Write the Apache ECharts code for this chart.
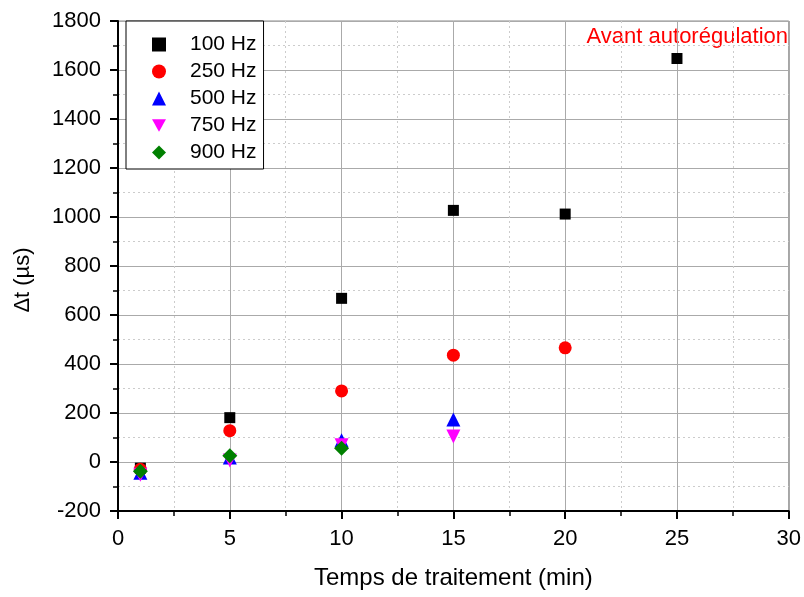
<!DOCTYPE html>
<html>
<head>
<meta charset="utf-8">
<script src="https://cdn.jsdelivr.net/npm/echarts@6/dist/echarts.min.js"></script>
<style>
  html, body { margin: 0; padding: 0; background: #fff; }
  #chart-container { width: 804px; height: 597px; }
</style>
</head>
<body>
<div id="chart-container"></div>
<script>
// data: [time (min), delta t (us)]
var hz100 = [[1, -25], [5, 181], [10, 668], [15, 1027], [20, 1012], [25, 1647]];
var hz250 = [[1, -30], [5, 128], [10, 290], [15, 436], [20, 466]];
var hz500 = [[1, -44], [5, 18], [10, 89], [15, 173]];
var hz750 = [[1, -52], [5, 6], [10, 68], [15, 104]];
var hz900 = [[1, -38], [5, 26], [10, 56]];

var seriesNames = ["100 Hz", "250 Hz", "500 Hz", "750 Hz", "900 Hz"];
var xTitle = "Temps de traitement (min)";
var yTitle = "\u0394t (\u00b5s)";
var note = "Avant autorégulation";

var dom = document.getElementById("chart-container");
var myChart = echarts.init(dom, null, { renderer: "canvas" });

var fontFam = "Liberation Sans, Arial, sans-serif";

var axisCommon = {
  axisLine: { show: true, onZero: false, lineStyle: { color: "#000", width: 2 } },
  axisTick: { show: true, inside: false, length: 8, lineStyle: { color: "#000", width: 2 } },
  minorTick: { show: true, splitNumber: 2, length: 5, lineStyle: { color: "#000", width: 1.5 } },
  splitLine: { show: true, lineStyle: { color: "#aaa", width: 1 } },
  minorSplitLine: { show: true, lineStyle: { color: "#ccc", width: 1, type: [2, 3] } },
};

function plain(v) {
  return String(v);
}

function mk(name, data, symbol, size, color) {
  return {
    name: name,
    type: "scatter",
    data: data,
    symbol: symbol,
    symbolSize: size,
    itemStyle: { color: color, opacity: 1 },
  };
}

var option = {
  animation: false,
  grid: {
    left: 118, right: 14, top: 21, bottom: 86,
    show: true, borderColor: "#888", borderWidth: 1,
  },
  legend: {
    orient: "vertical",
    left: 126, top: 21,
    data: seriesNames,
    itemWidth: 14, itemHeight: 14, itemGap: 6,
    padding: [13, 7, 6, 26],
    borderColor: "#000", borderWidth: 1,
    backgroundColor: "#fff",
    textStyle: { fontFamily: fontFam, fontSize: 21, color: "#000", lineHeight: 21, padding: [0, 0, 0, 19] },
  },
  xAxis: Object.assign({}, axisCommon, {
    type: "value",
    min: 0, max: 30, interval: 5,
    name: xTitle, nameLocation: "middle", nameGap: 55,
    nameTextStyle: { fontFamily: fontFam, fontSize: 24, color: "#000" },
    axisLabel: { fontFamily: fontFam, fontSize: 22, color: "#000", margin: 17, formatter: plain },
  }),
  yAxis: Object.assign({}, axisCommon, {
    type: "value",
    min: -200, max: 1800, interval: 200,
    name: yTitle, nameLocation: "middle", nameGap: 84,
    nameTextStyle: { fontFamily: fontFam, fontSize: 22, color: "#000", padding: [0, 28, 0, 0] },
    axisLabel: { fontFamily: fontFam, fontSize: 22, color: "#000", margin: 17, formatter: plain },
  }),
  graphic: [
    {
      type: "text",
      right: 16, top: 26,
      style: { text: note, fill: "#ff0000", font: "22px " + fontFam },
    },
  ],
  series: [
    mk(seriesNames[0], hz100, "rect", 11, "#000000"),
    mk(seriesNames[1], hz250, "circle", 13, "#ff0000"),
    mk(seriesNames[2], hz500, "triangle", 14, "#0000ff"),
    mk(seriesNames[3], hz750, "path://M0,0 L10,0 L5,9 Z", 14, "#ff00ff"),
    mk(seriesNames[4], hz900, "diamond", 15, "#008000"),
  ],
};

myChart.setOption(option);
window.addEventListener("resize", myChart.resize);
</script>
</body>
</html>
